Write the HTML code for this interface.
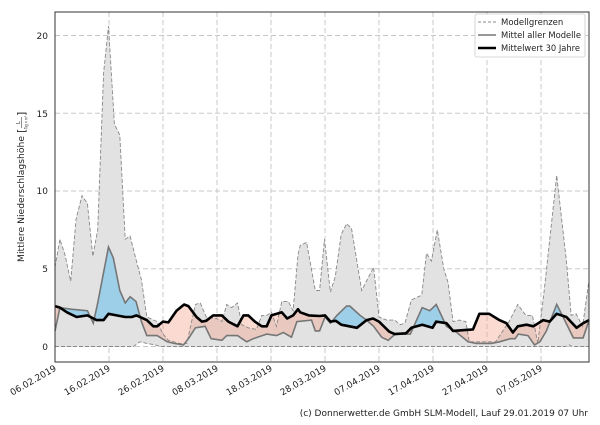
<!DOCTYPE html>
<html><head><meta charset="utf-8">
<style>
body{margin:0;background:#fff;width:600px;height:420px;overflow:hidden;font-family:"Liberation Sans","DejaVu Sans",sans-serif;}
svg text{font-family:"DejaVu Sans","Liberation Sans",sans-serif;}
</style></head><body>
<svg id="s" width="600" height="420" xmlns="http://www.w3.org/2000/svg">
<rect width="600" height="420" fill="#fff"/>
<g id="plot"></g>
<rect x="55" y="12" width="534" height="350" fill="none" stroke="#333" stroke-width="1"/>
<g font-size="9" fill="#222" text-anchor="end">
<text x="48" y="350">0</text><text x="48" y="272">5</text><text x="48" y="194">10</text><text x="48" y="117">15</text><text x="48" y="39">20</text>
</g>
<g id="xl" font-size="9" fill="#222" text-anchor="end"></g>
<g transform="translate(24,190) rotate(-90)" font-size="9" fill="#222">
<text x="-72" y="0" textLength="126" lengthAdjust="spacingAndGlyphs">Mittlere Niederschlagshöhe</text>
<text x="57" y="1" font-size="11">[</text>
<text x="66" y="-4" font-size="5">L</text>
<line x1="62" y1="-2.5" x2="73" y2="-2.5" stroke="#222" stroke-width="0.5"/>
<text x="61" y="3.5" font-size="4" textLength="13" lengthAdjust="spacingAndGlyphs">Tag × m²</text>
<text x="74" y="1" font-size="11">]</text>
</g>
<g font-size="8.5" fill="#222">
<rect x="475" y="14" width="110" height="43" fill="#fff" stroke="#ccc" stroke-width="0.8" rx="2"/>
<line x1="478" y1="22" x2="496" y2="22" stroke="#888" stroke-dasharray="3,2"/>
<text x="501" y="25">Modellgrenzen</text>
<line x1="478" y1="35" x2="496" y2="35" stroke="#777" stroke-width="1.5"/>
<text x="501" y="38" textLength="80" lengthAdjust="spacingAndGlyphs">Mittel aller Modelle</text>
<line x1="478" y1="48" x2="496" y2="48" stroke="#000" stroke-width="2.5"/>
<text x="501" y="51" textLength="79" lengthAdjust="spacingAndGlyphs">Mittelwert 30 Jahre</text>
</g>
<text x="588" y="416" font-size="9" fill="#222" text-anchor="end">(c) Donnerwetter.de GmbH SLM-Modell, Lauf 29.01.2019 07 Uhr</text>
</svg>
<script>
var X=d=>55+d*5.4, Y=v=>346.5-v*15.55;
var up=[[0,5.1],[0.9,6.9],[1.85,5.9],[2.9,4.2],[3.9,8.2],[5,9.7],[6,9.2],[7,5.8],[7.9,7.5],[9,17.6],[9.9,20.6],[11,14.3],[12,13.6],[13,6.9],[13.9,7.1],[15,5.6],[16,4.3],[17,1.9],[18.9,1.6],[20,0.8],[21,0.4],[22,0.3],[23,0.2],[24.4,0.2],[26,2.7],[26.9,2.8],[28,1.9],[29.9,1.8],[30.9,1.6],[31.8,2.7],[32.7,2.5],[33.8,2.8],[34.6,1.4],[35.8,1.2],[37.3,1.1],[38.3,2.0],[39.2,2.0],[40.1,2.2],[41,1.3],[42,2.9],[43.2,2.9],[44.1,2.3],[45,5.9],[45.4,6.5],[46.6,6.7],[48.2,3.6],[49,3.6],[49.9,6.9],[51,3.5],[51.9,4.5],[53,7.2],[54,7.9],[54.9,7.6],[56.8,3.6],[59,5.1],[60,1.9],[61.4,1.7],[62.9,1.7],[63.9,1.4],[64.8,1.5],[66,3.0],[67.9,3.3],[68.8,6.0],[69.7,5.5],[70.8,7.5],[72,5.0],[72.8,4.1],[73.7,1.6],[74.9,1.7],[76.1,1.6],[76.7,0.3],[79.7,0.3],[81.6,0.3],[84.1,1.6],[85.7,2.7],[87.2,2.0],[88.4,2.0],[89.4,0.2],[90.6,3.6],[92.9,11.0],[94.7,5.5],[95.6,2.0],[96.5,2.1],[97.7,1.3],[98.9,4.3]];
var mm=[[0,1.0],[0.9,2.5],[3,2.4],[6,2.3],[7.1,1.5],[7.9,2.8],[9.9,6.4],[10.8,5.7],[12,3.6],[13,2.8],[13.9,3.2],[15,2.9],[16,1.6],[17,0.7],[18.9,0.7],[20.8,0.3],[22,0.2],[23.8,0.1],[24.7,0.5],[26,1.2],[27.8,1.3],[28.9,0.5],[30.9,0.4],[31.8,0.7],[33.8,0.7],[35.5,0.3],[36.7,0.5],[39.2,0.8],[41,0.7],[42.3,0.9],[43.8,0.6],[44.8,1.6],[47.5,1.7],[48.2,1.0],[49,1.0],[50,1.9],[51,1.5],[52.2,2.0],[54,2.6],[54.6,2.6],[56.5,2.0],[57.7,1.7],[59,1.3],[60.5,0.6],[61.7,0.4],[63,0.8],[65.8,0.8],[68,2.5],[69.4,2.3],[70.6,2.7],[72.5,1.3],[74.4,0.9],[76.5,0.3],[78,0.2],[80.8,0.2],[82.3,0.3],[84.3,0.5],[85.2,0.5],[85.8,0.8],[87.6,0.7],[88.8,0.1],[89.8,0.3],[91,1.0],[92.9,2.7],[94.1,1.9],[96,0.55],[97.8,0.55],[98.9,1.7]];
var cl=[[0,2.6],[0.9,2.5],[2.2,2.2],[4,1.9],[6,2.0],[7.7,1.7],[9,1.7],[9.9,2.1],[11.4,2.0],[13,1.9],[14.2,1.9],[15.1,2.0],[17,1.7],[18.2,1.3],[18.9,1.3],[20,1.6],[21,1.55],[22.5,2.3],[23.9,2.7],[24.7,2.6],[26.2,1.9],[27.2,1.6],[28,1.65],[29.3,2.0],[30.9,2.0],[32.1,1.6],[33.8,1.3],[34.9,2.0],[35.8,2.0],[37,1.6],[38.3,1.3],[39.2,1.3],[40.1,2.0],[42,2.2],[43,1.8],[44.1,2.0],[45,2.4],[45.4,2.2],[47,2.0],[49,1.96],[50,2.0],[51,1.6],[52,1.65],[53,1.4],[55.9,1.2],[57.7,1.7],[58.9,1.8],[60,1.6],[61.9,0.95],[62.9,0.8],[65,0.85],[66,1.2],[68,1.4],[69.9,1.2],[70.6,1.6],[72.5,1.5],[73.7,1.0],[77.4,1.1],[78.6,2.1],[80.4,2.1],[82.3,1.7],[83.6,1.5],[84.8,0.9],[85.7,1.3],[87.3,1.4],[88.6,1.3],[90.4,1.7],[91.6,1.6],[92.9,2.1],[94.7,1.9],[96.6,1.2],[97.8,1.5],[98.9,1.7]];
var lo=[[0,0],[14.5,0],[15.7,0.3],[17,0.2],[18.5,0.1],[19.5,0],[94.5,0],[95.3,0.1],[95.8,0],[98.9,0]];
function f(a,d){for(var i=1;i<a.length;i++){if(d<=a[i][0]){var t=(d-a[i-1][0])/(a[i][0]-a[i-1][0]);return a[i-1][1]+t*(a[i][1]-a[i-1][1]);}}return a[a.length-1][1];}
function path(a){return a.map((p,i)=>(i?'L':'M')+X(p[0]).toFixed(1)+','+Y(p[1]).toFixed(1)).join('');}
var h='';
[0,5,10,15,20].forEach(v=>{h+='<line x1="55" x2="589" y1="'+Y(v)+'" y2="'+Y(v)+'" stroke="#c8c8c8" stroke-dasharray="5,3"/>';});
var labs=['06.02.2019','16.02.2019','26.02.2019','08.03.2019','18.03.2019','28.03.2019','07.04.2019','17.04.2019','27.04.2019','07.05.2019'];
var xl='';
labs.forEach((l,i)=>{var x=X(i*10);h+='<line y1="12" y2="362" x1="'+x+'" x2="'+x+'" stroke="#c8c8c8" stroke-dasharray="5,3"/>';xl+='<text transform="translate('+(x+2)+',370) rotate(-30)">'+l+'</text>';});
document.getElementById('xl').innerHTML=xl;
var step=0.1,N=989,U=[],L=[],M=[],C=[];
for(var k=0;k<=N;k++){var d=k*step;U.push([d,f(up,d)]);L.push([d,f(lo,d)]);M.push([d,f(mm,d)]);C.push([d,f(cl,d)]);}
h+='<path d="'+path(U)+path(L.slice().reverse()).replace('M','L')+'Z" fill="#e2e2e2"/>';
var seg=[],sign=null;
function flush(){if(seg.length>1){var top=seg.map(s=>[s[0],s[1]]),bot=seg.map(s=>[s[0],s[2]]).reverse();h+='<path d="'+path(top)+path(bot).replace('M','L')+'Z" fill="'+(sign>0?'rgba(135,200,235,0.75)':'rgba(244,160,135,0.38)')+'"/>';}}
for(var k=0;k<=N;k++){var s=M[k][1]>=C[k][1]?1:-1;if(s!==sign){if(seg.length){seg.push([M[k][0],M[k][1],C[k][1]]);}flush();seg=[];sign=s;if(k>0)seg.push([M[k-1][0],M[k-1][1],C[k-1][1]]);}seg.push([M[k][0],M[k][1],C[k][1]]);}
flush();
h+='<path d="'+path(up)+'" fill="none" stroke="#888" stroke-width="0.9" stroke-dasharray="4,2"/>';
h+='<path d="'+path(lo)+'" fill="none" stroke="#888" stroke-width="0.9" stroke-dasharray="4,2"/>';
h+='<path d="'+path(mm)+'" fill="none" stroke="#767676" stroke-width="1.6"/>';
h+='<path d="'+path(cl)+'" fill="none" stroke="#000" stroke-width="2.6" stroke-linejoin="round"/>';
document.getElementById('plot').innerHTML=h;
</script>
</body></html>
